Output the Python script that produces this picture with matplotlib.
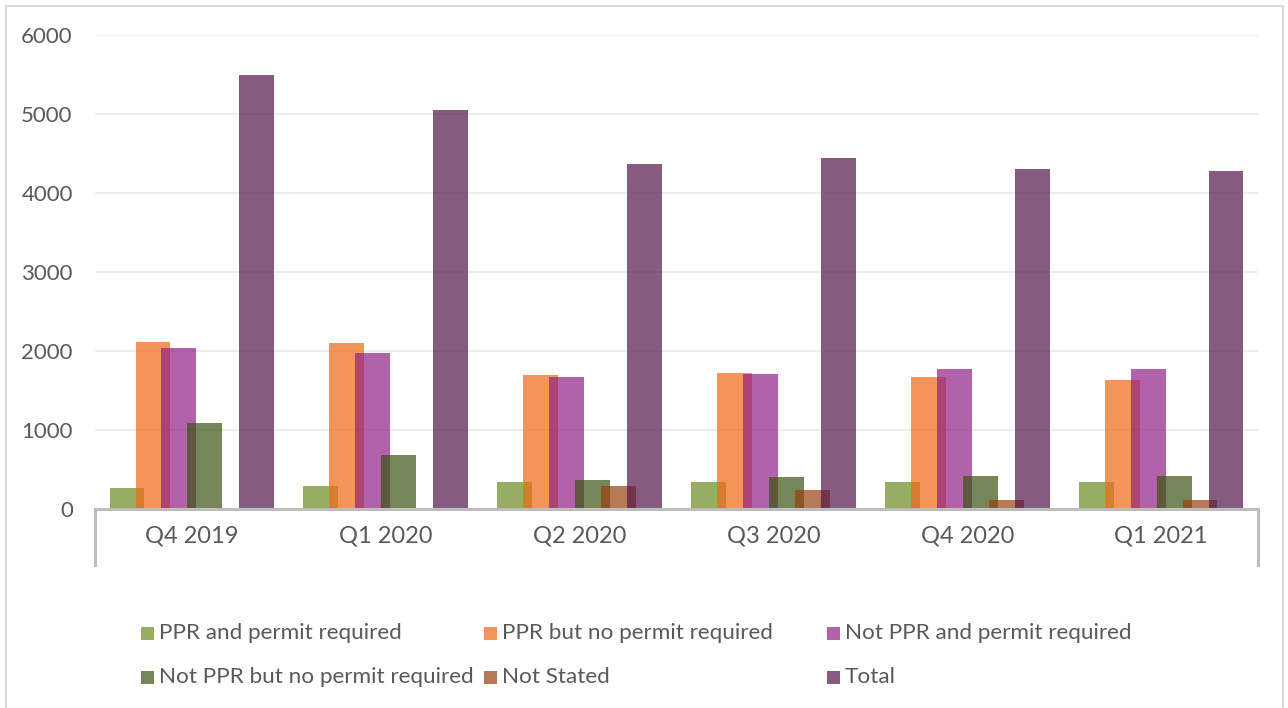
import matplotlib
matplotlib.use("Agg")
import matplotlib.pyplot as plt
from matplotlib.patches import Rectangle
from matplotlib.lines import Line2D
import numpy as np

categories = ["Q4 2019", "Q1 2020", "Q2 2020", "Q3 2020", "Q4 2020", "Q1 2021"]
series_names = ["PPR and permit required", "PPR but no permit required",
                "Not PPR and permit required", "Not PPR but no permit required",
                "Not Stated", "Total"]
ppr_permit = [260, 290, 340, 345, 340, 338]
ppr_no_permit = [2114, 2100, 1700, 1725, 1670, 1633]
not_ppr_permit = [2038, 1975, 1670, 1713, 1772, 1776]
not_ppr_no_permit = [1089, 684, 367, 405, 418, 418]
not_stated = [0, 0, 290, 245, 115, 114]
total = [5494, 5050, 4367, 4443, 4304, 4278]
yticks = [0, 1000, 2000, 3000, 4000, 5000, 6000]

series = [ppr_permit, ppr_no_permit, not_ppr_permit, not_ppr_no_permit, not_stated, total]
colors = ["#6b8b1f", "#ef6916", "#912083", "#3b5413", "#9a410e", "#54164a"]
alpha = 0.7

plt.rcParams['font.family'] = ['Lato', 'DejaVu Sans']
txt_color = "#595959"

W, H = 1288, 708
fig = plt.figure(figsize=(W / 100, H / 100), dpi=100)

# outer border
fig.patches.append(Rectangle((6 / W, -0.01), (1283 - 6) / W, (H - 6) / H + 0.01,
                             transform=fig.transFigure, fill=False,
                             edgecolor="#d9d9d9", lw=1.5))

ax_left, ax_right, ax_zero, ax_top = 95, 1258, 509, 35
ax = fig.add_axes([ax_left / W, (H - ax_zero) / H, (ax_right - ax_left) / W,
                   (ax_zero - ax_top) / H])

x = np.arange(len(categories))
width = 0.18
step = 0.134
for i, (vals, c) in enumerate(zip(series, colors)):
    ax.bar(x + (i - 2.5) * step, vals, width=width, color=c, alpha=alpha,
           edgecolor="none", zorder=3, label=series_names[i])

ax.set_xlim(-0.5, len(categories) - 0.5)
ax.set_ylim(0, 6000)
ax.set_yticks(yticks)
ax.set_yticklabels([str(v) for v in yticks])
ax.set_xticks(x)
ax.set_xticklabels(categories)
ax.tick_params(axis="y", length=0, pad=16, labelsize=16, labelcolor=txt_color)
ax.tick_params(axis="x", length=0, pad=12, labelsize=17, labelcolor=txt_color)
for s in ax.spines.values():
    s.set_visible(False)
ax.yaxis.grid(True, color="#ececec", lw=1.5, zorder=0)
ax.set_axisbelow(True)
ax.axhline(0, color="#bdbdbd", lw=2.2, zorder=4, clip_on=False)
ybot = -(565 - ax_zero) / (ax_zero - ax_top)
for xv in [-0.5, len(categories) - 0.5]:
    ax.add_line(Line2D([xv, xv], [ybot, 0], transform=ax.get_xaxis_transform(),
                       color="#bdbdbd", lw=2.2, clip_on=False))

# legend (Excel-like fixed column grid)
leg_cols = [141, 484, 827]
leg_rows = [633, 677]
for k, name in enumerate(series_names):
    r, cidx = divmod(k, 3)
    mx = leg_cols[cidx]
    my = leg_rows[r]
    fig.patches.append(Rectangle((mx / W, (H - my - 6.5) / H), 13 / W, 13 / H,
                                 transform=fig.transFigure, facecolor=colors[k],
                                 alpha=alpha, edgecolor="none"))
    fig.text((mx + 18) / W, (H - my) / H, name, fontsize=16.2, color=txt_color,
             va="center", ha="left")

fig.savefig("out.png", dpi=100)
